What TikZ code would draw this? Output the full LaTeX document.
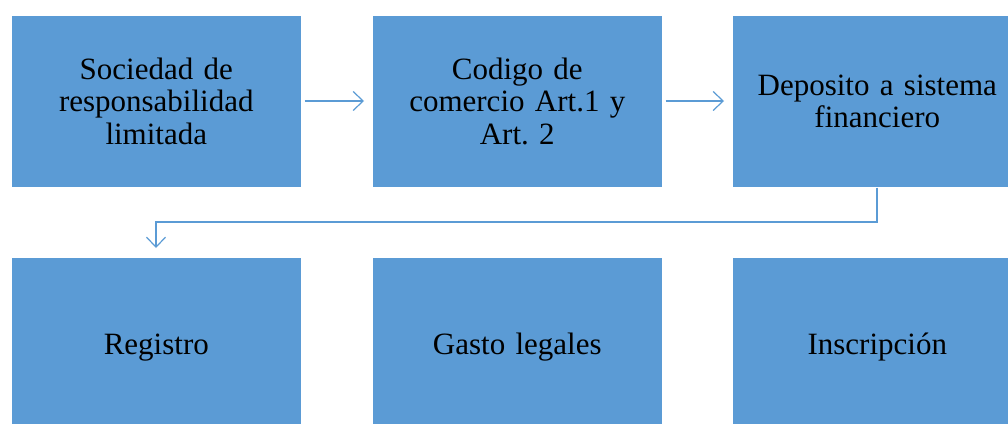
\documentclass[tikz,border=0pt]{standalone}
\usepackage{fontspec}
\setmainfont{Liberation Serif}
\frenchspacing
\usetikzlibrary{arrows.meta}
\definecolor{boxblue}{HTML}{5B9BD5}
\definecolor{arrowblue}{HTML}{5B9BD5}
\begin{document}
\begin{tikzpicture}[x=1pt,y=-1pt,
  blk/.style={fill=boxblue, draw=white, line width=0.6pt, minimum width=290pt, minimum height=172pt, inner sep=0pt, align=center, text width=280pt,
    font=\fontsize{31}{32.5}\selectfont, anchor=north west},
  conn/.style={draw=arrowblue, line width=1.2pt, -{Straight Barb[length=10pt,width=19pt,line width=1.2pt]}}]
\useasboundingbox (0,0) rectangle (1008,423);
\clip (0,0) rectangle (1008,423);
\node[blk] (a) at (11,15) {Sociedad de\\responsabilidad\\limitada};
\node[blk] (b) at (372,15) {Codigo de\\comercio Art.1 y\\Art. 2};
\node[blk] (c) at (732,15) {Deposito a sistema\\financiero};
\node[blk, minimum height=180pt] (d) at (11,257) {Registro};
\node[blk, minimum height=180pt] (e) at (372,257) {Gasto legales};
\node[blk, minimum height=180pt] (f) at (732,257) {Inscripción};
\coordinate (a1) at (304,101);
\draw[conn] ([xshift=3pt]a.east |- a1) -- ([xshift=-8pt]b.west |- a1);
\draw[conn] ([xshift=3pt]b.east |- a1) -- ([xshift=-8pt]c.west |- a1);
\draw[conn] (c.south -| 877,0) -- (877,222) -- (156,222) -- ([yshift=9pt]d.north -| 156,0);
\end{tikzpicture}
\end{document}
